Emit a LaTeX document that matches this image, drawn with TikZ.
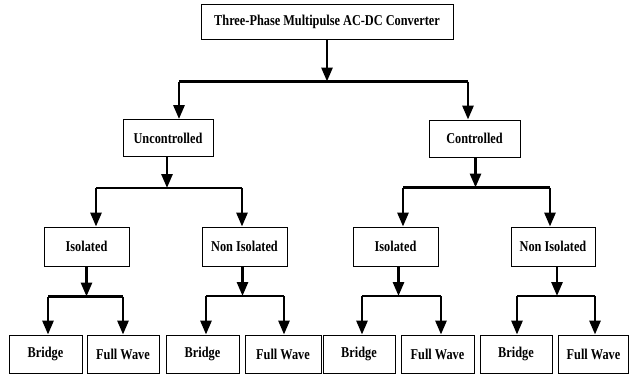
\documentclass[tikz,border=0pt]{standalone}
\usepackage{fontspec}
\setmainfont{Liberation Serif}[FakeStretch=0.82]
\usepackage{tikz}
\usetikzlibrary{arrows.meta,%
                positioning}

\begin{document}
\begin{tikzpicture}[x=1pt,y=-1pt,
  box/.style={draw,line width=0.9pt,inner sep=0pt,minimum height=37,
              font=\fontsize{15}{17}\selectfont\bfseries},
  bar/.style={line width=2.8pt},
  arr/.style={line width=2.8pt,-{Triangle[length=14pt,width=11pt]}}]
\useasboundingbox (0,0) rectangle (629,375);
\node[box,minimum width=252,minimum height=35] (conv) at (327,21.5) {Three-Phase Multipulse AC-DC Converter};
\node[box,minimum width=90] (unc) at (168,138) {Uncontrolled};
\node[box,minimum width=91] (con) at (474.5,138.5) {Controlled};
\node[box,minimum width=85,minimum height=39] (isoA) at (86.5,246.5) {Isolated};
\node[box,minimum width=85,minimum height=39] (nonA) at (244.5,246.5) {Non Isolated};
\node[box,minimum width=85,minimum height=39] (isoB) at (395.5,246.5) {Isolated};
\node[box,minimum width=84,minimum height=39] (nonB) at (553,246.5) {Non Isolated};
\node[box,minimum width=73,minimum height=38] (brA) at (45.5,354) {Bridge};
\node[box,minimum width=72,minimum height=38] (fwA) at (123,354) {Full Wave};
\node[box,minimum width=73,minimum height=38] (brB) at (202.5,354) {Bridge};
\node[box,minimum width=76,minimum height=38] (fwB) at (283,354) {Full Wave};
\node[box,minimum width=72,minimum height=38] (brC) at (359,354) {Bridge};
\node[box,minimum width=73,minimum height=38] (fwC) at (437.5,354) {Full Wave};
\node[box,minimum width=72,minimum height=38] (brD) at (516,354) {Bridge};
\node[box,minimum width=70,minimum height=38] (fwD) at (593.5,354) {Full Wave};
\coordinate (barL) at (179,81.5);
\coordinate (barR) at (468,81.5);
\coordinate (uncL) at (96,188);
\coordinate (uncR) at (242,188);
\coordinate (conL) at (403,187.5);
\coordinate (conR) at (550,187.5);
\coordinate (isoAL) at (48,296.5);
\coordinate (isoAR) at (123,296.5);
\coordinate (nonAL) at (206,296);
\coordinate (nonAR) at (284,296);
\coordinate (isoBL) at (362,296);
\coordinate (isoBR) at (441,296);
\coordinate (nonBL) at (517,296);
\coordinate (nonBR) at (595,296);
\draw[bar] (barL) -- (barR);
\draw[arr] (conv.south) -- (conv.south |- barL);
\draw[arr] (barL) -- (barL |- unc.north);
\draw[arr] (barR) -- (barR |- con.north);
\draw[bar] (uncL) -- (uncR);
\draw[arr] ([xshift=-1]unc.south) -- ([xshift=-1]unc.south |- uncL);
\draw[arr] (uncL) -- (uncL |- isoA.north);
\draw[arr] (uncR) -- (uncR |- nonA.north);
\draw[bar] (conL) -- (conR);
\draw[arr] ([xshift=1]con.south) -- ([xshift=1]con.south |- conL);
\draw[arr] (conL) -- (conL |- isoB.north);
\draw[arr] (conR) -- (conR |- nonB.north);
\draw[bar] (isoAL) -- (isoAR);
\draw[arr] (isoA.south) -- (isoA.south |- isoAL);
\draw[arr] (isoAL) -- (isoAL |- brA.north);
\draw[arr] (isoAR) -- (isoAR |- fwA.north);
\draw[bar] (nonAL) -- (nonAR);
\draw[arr] ([xshift=-2]nonA.south) -- ([xshift=-2]nonA.south |- nonAL);
\draw[arr] (nonAL) -- (nonAL |- brB.north);
\draw[arr] (nonAR) -- (nonAR |- fwB.north);
\draw[bar] (isoBL) -- (isoBR);
\draw[arr] ([xshift=3]isoB.south) -- ([xshift=3]isoB.south |- isoBL);
\draw[arr] (isoBL) -- (isoBL |- brC.north);
\draw[arr] (isoBR) -- (isoBR |- fwC.north);
\draw[bar] (nonBL) -- (nonBR);
\draw[arr] ([xshift=4]nonB.south) -- ([xshift=4]nonB.south |- nonBL);
\draw[arr] (nonBL) -- (nonBL |- brD.north);
\draw[arr] (nonBR) -- (nonBR |- fwD.north);
\end{tikzpicture}
\end{document}
